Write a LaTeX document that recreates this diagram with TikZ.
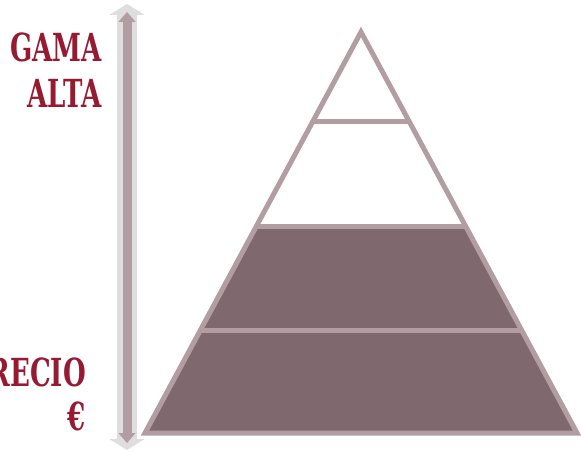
\documentclass[tikz,border=0pt]{standalone}
\usepackage{fontspec}
\usepackage{tikz}
\usetikzlibrary{arrows.meta}
\newfontfamily\slabfont{DejaVu Serif Condensed}[FakeStretch=0.75]
\definecolor{clrRed}{RGB}{150,27,50}
\definecolor{clrEdge}{RGB}{178,158,162}
\definecolor{clrTier}{RGB}{127,104,110}
\definecolor{clrBar}{RGB}{222,222,222}
\tikzset{
  lbl/.style={anchor=base east,text=clrRed,inner sep=0pt,
    font=\slabfont\bfseries\fontsize{33}{38}\selectfont},
  tier/.style={draw=clrEdge,line width=0.15cm,miter limit=20}
}
\begin{document}
\begin{tikzpicture}[x=0.03cm,y=-0.03cm]
  \useasboundingbox (0,0) rectangle (581,452);
  \def\ax{361} \def\ay{32} \def\by{433} \def\half{216}
  \def\sl{0.53865} % half width per unit of height

  % --- price arrow ---
  \draw[clrBar,line width=0.6cm,
        {Triangle[width=1.05cm,length=0.33cm]}-{Triangle[width=1.05cm,length=0.33cm]}]
    (127,4) -- (127,450);
  \draw[clrEdge,line width=0.27cm,
        {Triangle[width=0.5cm,length=0.3cm]}-{Triangle[width=0.5cm,length=0.3cm]}]
    (127,12) -- (127,443);

  % --- labels ---
  \node[lbl] (gama) at (102,62) {GAMA};
  \node[lbl] (alta) at (102,108) {ALTA};
  \node[lbl] (precio) at (86,386) {PRECIO};
  \node[lbl] (euro) at (86,430) {€};

  % --- pyramid ---
  \fill[clrTier] ({\ax-\sl*(227-\ay)},227) -- ({\ax+\sl*(227-\ay)},227)
    -- (\ax+\half,\by) -- (\ax-\half,\by) -- cycle;
  \foreach \y in {122,227,330}{
    \draw[tier] ({\ax-\sl*(\y-\ay)},\y) -- ({\ax+\sl*(\y-\ay)},\y);
  }
  \draw[tier] (\ax,\ay) -- (\ax+\half,\by) -- (\ax-\half,\by) -- cycle;
\end{tikzpicture}
\end{document}
